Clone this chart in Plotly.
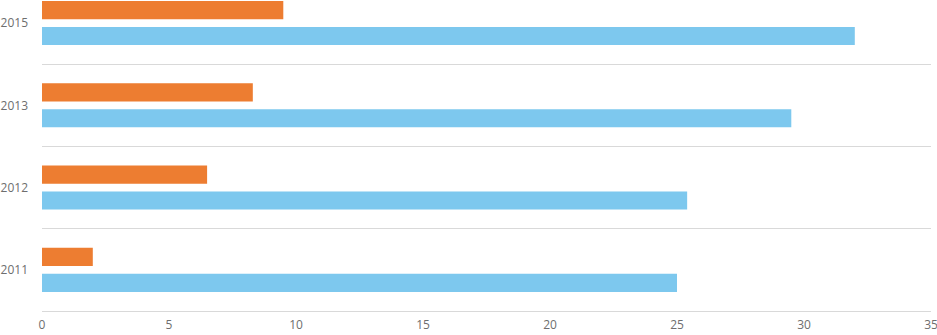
import plotly.graph_objects as go

years = ["2011", "2012", "2013", "2015"]
series_blue = [25.0, 25.4, 29.5, 32.0]
series_orange = [2.0, 6.5, 8.3, 9.5]
x_ticks = [0, 5, 10, 15, 20, 25, 30, 35]

fig = go.Figure()
fig.add_trace(go.Bar(y=years, x=series_blue, orientation="h",
                     marker=dict(color="#7DC8EE", line=dict(width=0)), name="A"))
fig.add_trace(go.Bar(y=years, x=series_orange, orientation="h",
                     marker=dict(color="#ED7D31", line=dict(width=0)), name="B"))

fig.update_layout(
    width=937, height=335,
    margin=dict(l=42, r=6, t=0, b=24, pad=0),
    barmode="group", bargap=0.37, bargroupgap=0.30,
    showlegend=False,
    plot_bgcolor="white", paper_bgcolor="white",
    font=dict(family="Open Sans", size=12, color="#6E6E6E"),
    xaxis=dict(range=[0, 35], tickvals=x_ticks, showgrid=False, zeroline=False,
               showline=True, linecolor="#D9D9D9", linewidth=1,
               automargin=False, ticklabeloverflow="allow", ticklabelstandoff=3,
               fixedrange=True, tickfont=dict(size=12, color="#6E6E6E")),
    yaxis=dict(type="category", categoryorder="array", categoryarray=years,
               range=[-0.5, 3.28], tickson="boundaries", showgrid=True,
               gridcolor="#D9D9D9", gridwidth=1, ticks="", ticklabelstandoff=13,
               automargin=False, fixedrange=True,
               showline=False, zeroline=False, tickfont=dict(size=12, color="#6E6E6E")),
)
fig.write_html("out.html", config={"displayModeBar": False},
               post_script="document.body.style.margin='0';document.body.style.overflow='hidden';")
